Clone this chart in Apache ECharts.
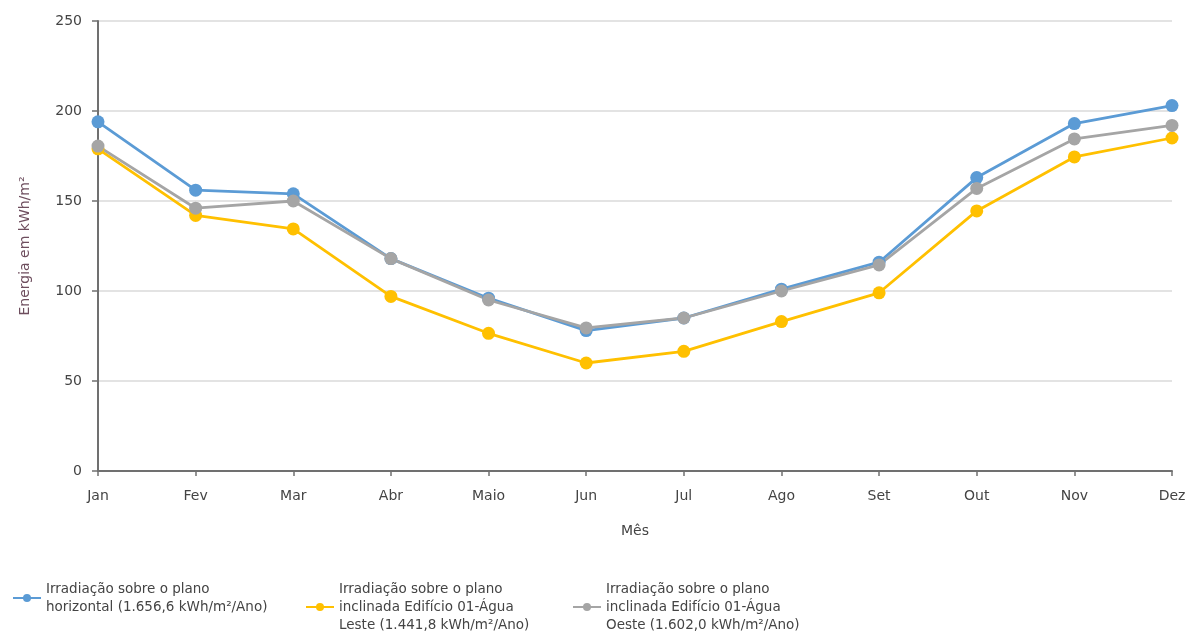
<!DOCTYPE html>
<html>
<head>
<meta charset="utf-8">
<script src="https://cdn.jsdelivr.net/npm/echarts@6/dist/echarts.min.js"></script>
<style>
  html, body { margin: 0; padding: 0; background: #fff; }
  #chart { width: 1190px; height: 636px; }
</style>
</head>
<body>
<div id="chart"></div>
<script>
// Monthly solar irradiation (kWh/m²)
const months = ['Jan', 'Fev', 'Mar', 'Abr', 'Maio', 'Jun', 'Jul', 'Ago', 'Set', 'Out', 'Nov', 'Dez'];
const horizontal = [194, 156, 154, 118, 96, 78, 85, 101, 116, 163, 193, 203];
const leste = [179, 142, 134.5, 97, 76.5, 60, 66.5, 83, 99, 144.5, 174.5, 185];
const oeste = [180.5, 146, 150, 118, 95, 79.5, 85, 100, 114.5, 157, 184.5, 192];

const seriesNames = [
  'Irradiação sobre o plano\nhorizontal (1.656,6 kWh/m²/Ano)',
  'Irradiação sobre o plano\ninclinada Edifício 01-Água\nLeste (1.441,8 kWh/m²/Ano)',
  'Irradiação sobre o plano\ninclinada Edifício 01-Água\nOeste (1.602,0 kWh/m²/Ano)'
];
const colors = ['#5b9bd5', '#ffc000', '#a5a5a5'];

const font = 'DejaVu Sans';
const chart = echarts.init(document.getElementById('chart'));

function legendAt(name, left, top) {
  return {
    data: [name],
    left: left,
    top: top,
    orient: 'horizontal',
    itemWidth: 28,
    itemHeight: 10,
    itemGap: 6,
    selectedMode: false,
    textStyle: { fontFamily: font, fontSize: 13.5, color: '#444', lineHeight: 18 }
  };
}

function lineSeries(name, data, color) {
  return {
    name: name,
    type: 'line',
    data: data,
    symbol: 'circle',
    symbolSize: 13,
    itemStyle: { color: color },
    lineStyle: { color: color, width: 2.8 },
    emphasis: { disabled: true },
    animation: false
  };
}

chart.setOption({
  animation: false,
  grid: { left: 98, right: 18, top: 21, bottom: 165, containLabel: false },
  legend: [
    legendAt(seriesNames[0], 7, 575),
    legendAt(seriesNames[1], 300, 575),
    legendAt(seriesNames[2], 567, 575)
  ],
  xAxis: {
    type: 'category',
    data: months,
    boundaryGap: false,
    name: 'Mês',
    nameLocation: 'middle',
    nameGap: 53,
    nameTextStyle: { fontFamily: font, fontSize: 14, color: '#444' },
    axisLine: { lineStyle: { color: '#707070', width: 2 } },
    axisTick: { show: true, length: 5, lineStyle: { color: '#707070', width: 1.5 } },
    axisLabel: { fontFamily: font, fontSize: 14, color: '#444', margin: 18 },
    splitLine: { show: false }
  },
  yAxis: {
    type: 'value',
    min: 0,
    max: 250,
    interval: 50,
    name: 'Energia em kWh/m²',
    nameLocation: 'middle',
    nameGap: 66,
    nameTextStyle: { fontFamily: font, fontSize: 14, color: '#6e4e5e' },
    axisLine: { show: true, lineStyle: { color: '#707070', width: 2 } },
    axisTick: { show: true, length: 6, lineStyle: { color: '#707070', width: 1.5 } },
    axisLabel: { fontFamily: font, fontSize: 14, color: '#444', margin: 16 },
    splitLine: { show: true, lineStyle: { color: '#e3e3e3', width: 2 } }
  },
  series: [
    lineSeries(seriesNames[0], horizontal, colors[0]),
    lineSeries(seriesNames[1], leste, colors[1]),
    lineSeries(seriesNames[2], oeste, colors[2])
  ]
});
</script>
</body>
</html>
